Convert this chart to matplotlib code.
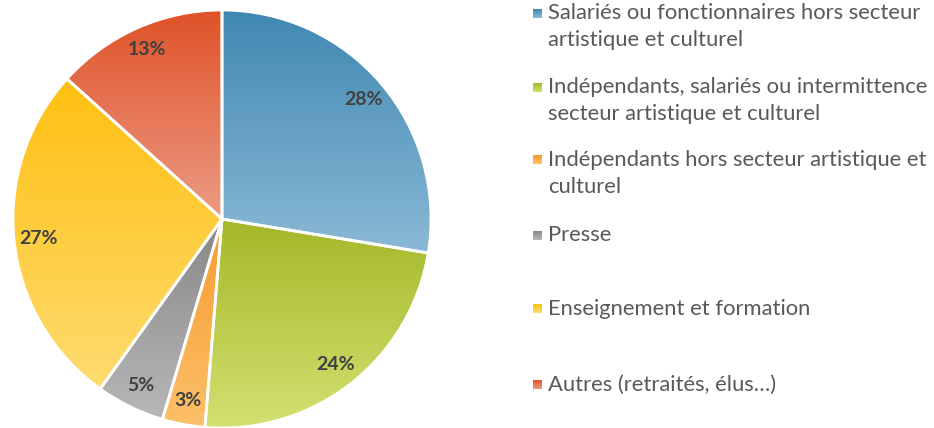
import numpy as np
import matplotlib
matplotlib.use("Agg")
import matplotlib.pyplot as plt
from matplotlib.colors import LinearSegmentedColormap

# parts (%), dans le sens horaire depuis midi
categories = [
    "Salariés ou fonctionnaires hors secteur\nartistique et culturel",
    "Indépendants, salariés ou intermittence\nsecteur artistique et culturel",
    "Indépendants hors secteur artistique et\nculturel",
    "Presse",
    "Enseignement et formation",
    "Autres (retraités, élus…)",
]
values = [27.6, 23.7, 3.3, 5.3, 26.8, 13.3]
pct_labels = ["28%", "24%", "3%", "5%", "27%", "13%"]

# dégradés haut -> bas
top_colors = ["#4088B2", "#A4B828", "#F79A2E", "#878787", "#FEC010", "#DF5228"]
bottom_colors = ["#8AB9D6", "#D3E172", "#FDC06A", "#B7B7B7", "#FFDB70", "#EC9C86"]

plt.rcParams['font.family'] = ['Lato', 'DejaVu Sans']

W, H = 934, 428
fig = plt.figure(figsize=(W / 100, H / 100), dpi=100)

ax = fig.add_axes([13 / W, 0, 418 / W, 418 / H])
wedges, texts = ax.pie(values, startangle=90, counterclock=False, radius=1,
                       labels=pct_labels, labeldistance=0.885,
                       wedgeprops=dict(edgecolor="white", linewidth=2))

grad = np.linspace(0, 1, 256).reshape(-1, 1)
for w, c0, c1 in zip(wedges, top_colors, bottom_colors):
    cmap = LinearSegmentedColormap.from_list("g", [c0, c1])
    bb = w.get_path().get_extents()
    im = ax.imshow(grad, cmap=cmap, aspect="auto", origin="upper",
                   extent=[bb.x0, bb.x1, bb.y0, bb.y1], zorder=1)
    im.set_clip_path(w)
    w.set_facecolor("none")
    w.set_zorder(2)
    w.set_clip_on(False)

for t in texts:
    t.set_fontsize(14)
    t.set_fontweight("bold")
    t.set_color("#404040")
    t.set_ha("center")
    t.set_va("center")
    t.set_zorder(3)

ax.set_xlim(-1, 1)
ax.set_ylim(-1, 1)
ax.set_aspect("equal")
ax.axis("off")

# légende
lg = fig.add_axes([0, 0, 1, 1])
lg.set_xlim(0, W)
lg.set_ylim(H, 0)
lg.axis("off")
row_y = [13, 87, 160, 235, 309, 385]
line_gap = 27
for y, lab, c0, c1 in zip(row_y, categories, top_colors, bottom_colors):
    cmap = LinearSegmentedColormap.from_list("g", [c0, c1])
    lg.imshow(grad, cmap=cmap, aspect="auto", origin="upper",
              extent=[533, 542, y + 4.5, y - 4.5])
    for i, line in enumerate(lab.split("\n")):
        lg.text(548, y + i * line_gap, line, fontsize=15.8, color="#595959",
                ha="left", va="center")
lg.set_xlim(0, W)
lg.set_ylim(H, 0)

fig.savefig("out.png", dpi=100)
